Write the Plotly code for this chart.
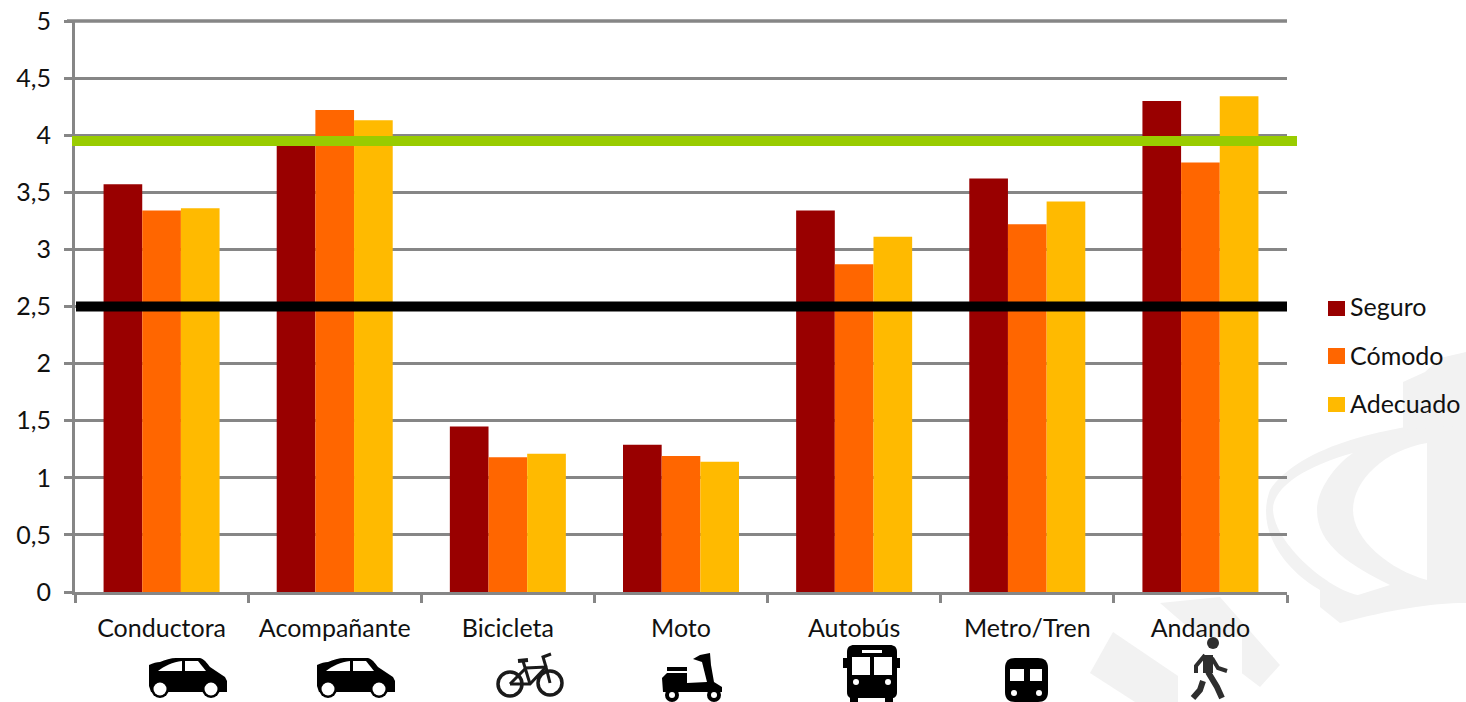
import plotly.graph_objects as go

categories = ["Conductora", "Acompañante", "Bicicleta", "Moto", "Autobús", "Metro/Tren", "Andando"]
seguro = [3.57, 3.94, 1.45, 1.29, 3.34, 3.62, 4.30]
comodo = [3.34, 4.22, 1.18, 1.19, 2.87, 3.22, 3.76]
adecuado = [3.36, 4.13, 1.21, 1.14, 3.11, 3.42, 4.34]
series_names = ["Seguro", "Cómodo", "Adecuado"]
series_colors = ["#990000", "#FF6600", "#FFBA00"]
ref_black = 2.5
ref_green = 3.95

W, H = 1466, 702
L, R, T, B = 75, 1287, 21, 592
FONT = "Lato"
GRID = "#868686"


def px(x):
    return (x - L) / (R - L)


def py(y):
    return (B - y) / (B - T)


shapes = []
annotations = []


def path(d, fill=None, line=None, lw=0, layer="above"):
    """d: list of commands, each (letter, x1, y1, x2, y2...) in page pixels."""
    out = []
    for cmd in d:
        if cmd[0] == "Z":
            out.append("Z")
            continue
        nums = cmd[1:]
        pts = []
        for i in range(0, len(nums), 2):
            pts.append(f"{px(nums[i]):.5f},{py(nums[i + 1]):.5f}")
        out.append(cmd[0] + " ".join(pts))
    s = dict(type="path", path=" ".join(out), xref="paper", yref="paper", layer=layer,
             line=dict(width=lw, color=line or "rgba(0,0,0,0)"))
    if fill:
        s["fillcolor"] = fill
    shapes.append(s)


def rect(x0, y0, x1, y1, fill, layer="above"):
    shapes.append(dict(type="rect", xref="paper", yref="paper", x0=px(x0), x1=px(x1), y0=py(y1), y1=py(y0),
                       fillcolor=fill, line=dict(width=0), layer=layer))


def circle(cx, cy, r, fill, layer="above"):
    shapes.append(dict(type="circle", xref="paper", yref="paper", x0=px(cx - r), x1=px(cx + r),
                       y0=py(cy + r), y1=py(cy - r), fillcolor=fill, line=dict(width=0), layer=layer))


# --- watermark behind the chart ---
WM = "#F2F2F2"
path([("M", 1466, 420), ("C", 1390, 425, 1300, 445, 1270, 490), ("C", 1255, 530, 1285, 570, 1320, 590),
      ("L", 1320, 607), ("L", 1340, 623), ("C", 1390, 610, 1430, 603, 1466, 603), ("Z",)], fill=WM, layer="below")
path([("M", 1353, 453), ("C", 1310, 465, 1273, 485, 1273, 510), ("C", 1275, 545, 1330, 590, 1358, 595),
      ("L", 1390, 585), ("C", 1350, 565, 1317, 545, 1317, 510), ("C", 1317, 490, 1335, 465, 1353, 453), ("Z",)],
     fill="#FFFFFF", layer="below")
path([("M", 1427, 443), ("C", 1385, 450, 1353, 480, 1353, 510), ("C", 1353, 540, 1390, 570, 1427, 580), ("Z",)],
     fill="#FFFFFF", layer="below")
path([("M", 1403, 382), ("L", 1425, 372), ("L", 1440, 358), ("L", 1466, 352), ("L", 1466, 425), ("L", 1403, 430),
      ("Z",)], fill=WM, layer="below")
path([("M", 1160, 603), ("L", 1220, 597), ("L", 1280, 665), ("L", 1260, 687), ("L", 1235, 668), ("Z",)],
     fill=WM, layer="below")
path([("M", 1113, 632), ("L", 1090, 673), ("L", 1135, 702), ("L", 1178, 702), ("L", 1178, 676), ("Z",)],
     fill=WM, layer="below")
rect(1178, 637, 1242, 702, "#FFFFFF", layer="below")


# --- pictograms under the categories ---
def car(x, y):
    path([("M", x, y + 7), ("C", x + 4, y + 5, x + 8, y + 4, x + 11, y + 4), ("C", x + 16, y + 2, x + 22, y, x + 27, y),
          ("L", x + 51, y), ("C", x + 55, y + 1, x + 58, y + 5, x + 61, y + 9), ("L", x + 76, y + 19),
          ("L", x + 78, y + 23), ("L", x + 78, y + 34), ("L", x + 2, y + 34), ("L", x, y + 28), ("Z",)],
         fill="#000000")
    path([("M", x + 9, y + 13), ("C", x + 15, y + 8, x + 24, y + 4, x + 33, y + 3), ("L", x + 33, y + 13), ("Z",)],
         fill="#FFFFFF")
    path([("M", x + 36, y + 3), ("L", x + 49, y + 3), ("L", x + 57, y + 13), ("L", x + 36, y + 13), ("Z",)],
         fill="#FFFFFF")
    for wx in (11, 62):
        circle(x + wx, y + 31, 9, "#000000")
        circle(x + wx, y + 31, 6.5, "#FFFFFF")


car(149, 658)
car(317, 658)

# bicycle
for cx, cy in ((510, 684), (550, 683)):
    shapes.append(dict(type="circle", xref="paper", yref="paper", x0=px(cx - 12), x1=px(cx + 12),
                       y0=py(cy + 12), y1=py(cy - 12), line=dict(width=3.5, color="#1A1A1A")))
path([("M", 510, 684), ("L", 526, 668), ("L", 546, 667), ("L", 550, 683)], line="#1A1A1A", lw=3)
path([("M", 510, 684), ("L", 530, 684), ("L", 546, 667)], line="#1A1A1A", lw=3)
path([("M", 523, 661), ("L", 530, 684)], line="#1A1A1A", lw=3)
path([("M", 518, 661), ("L", 528, 660)], line="#1A1A1A", lw=4)
path([("M", 546, 667), ("L", 543, 657), ("L", 551, 654)], line="#1A1A1A", lw=3)

# scooter
path([("M", 662, 678), ("L", 667, 673), ("L", 687, 673), ("L", 687, 683), ("L", 707, 682), ("L", 702, 662),
      ("L", 693, 659), ("L", 700, 655), ("L", 710, 653), ("L", 711, 665), ("L", 714, 682), ("L", 722, 687),
      ("L", 722, 692), ("L", 663, 692), ("Z",)], fill="#000000")
rect(667, 667, 687, 671, "#000000")
for cx in (672, 714):
    circle(cx, 695, 7, "#000000")
    circle(cx, 695, 3, "#FFFFFF")

# bus
path([("M", 847, 652), ("C", 847, 647, 850, 645, 854, 645), ("L", 890, 645), ("C", 894, 645, 897, 647, 897, 652),
      ("L", 897, 692), ("C", 897, 696, 895, 698, 892, 698), ("L", 852, 698), ("C", 849, 698, 847, 696, 847, 692),
      ("Z",)], fill="#000000")
rect(843, 658, 848, 668, "#000000")
rect(896, 658, 900, 668, "#000000")
rect(850, 696, 858, 702, "#000000")
rect(885, 696, 893, 702, "#000000")
rect(862, 650, 882, 653, "#FFFFFF")
rect(852, 657, 870, 675, "#FFFFFF")
rect(874, 657, 892, 675, "#FFFFFF")
circle(856, 682, 3, "#FFFFFF")
circle(888, 682, 3, "#FFFFFF")

# metro
path([("M", 1005, 668), ("C", 1005, 661, 1009, 658, 1015, 658), ("L", 1038, 658), ("C", 1044, 658, 1048, 661, 1048, 668),
      ("L", 1048, 692), ("C", 1048, 699, 1044, 702, 1038, 702), ("L", 1015, 702), ("C", 1009, 702, 1005, 699, 1005, 692),
      ("Z",)], fill="#000000")
rect(1010, 669, 1024, 681, "#FFFFFF")
rect(1030, 669, 1042, 681, "#FFFFFF")
circle(1014, 693, 3, "#FFFFFF")
circle(1039, 693, 3, "#FFFFFF")

# walker
WK = "#2E2E2E"
circle(1213, 643, 6, WK)
path([("M", 1208, 655), ("L", 1208, 673)], line=WK, lw=10)
path([("M", 1208, 672), ("L", 1217, 687), ("L", 1222, 698)], line=WK, lw=6)
path([("M", 1203, 681), ("L", 1200, 690), ("L", 1193, 698)], line=WK, lw=6)
path([("M", 1205, 655), ("L", 1196, 666), ("L", 1196, 673)], line=WK, lw=4)
path([("M", 1212, 658), ("L", 1218, 668), ("L", 1227, 671)], line=WK, lw=4)

# --- top gridline, which the axis does not draw at the end of its range ---
shapes.append(dict(type="line", xref="paper", yref="paper", x0=px(67), x1=px(1287), y0=1, y1=1,
                   line=dict(color=GRID, width=3.5), layer="below"))

# --- reference lines ---
shapes.append(dict(type="line", xref="paper", yref="y", x0=px(76), x1=px(1287), y0=ref_black, y1=ref_black,
                   line=dict(color="#000000", width=10), layer="above"))
shapes.append(dict(type="line", xref="paper", yref="y", x0=px(72), x1=px(1297), y0=ref_green, y1=ref_green,
                   line=dict(color="#99CC00", width=10), layer="above"))

# --- legend ---
legend_boxes = [(301, 316), (348, 364), (397, 412)]
legend_text_y = [305.5, 354.5, 402.5]
for name, color, (y0, y1), ty in zip(series_names, series_colors, legend_boxes, legend_text_y):
    rect(1328, y0, 1345, y1, color)
    annotations.append(dict(text=name, xref="paper", yref="paper", x=px(1348), y=py(ty),
                            xanchor="left", yanchor="middle", showarrow=False,
                            font=dict(family=FONT, size=25, color="#111111")))

fig = go.Figure()
for name, color, values in zip(series_names, series_colors, [seguro, comodo, adecuado]):
    fig.add_trace(go.Bar(x=categories, y=values, name=name, marker=dict(color=color, line=dict(width=0)),
                         showlegend=False))

fig.update_layout(
    width=W, height=H,
    margin=dict(l=L, r=W - R, t=T, b=H - B, autoexpand=False),
    barmode="group", bargap=0.33, bargroupgap=0,
    separators=",.",
    paper_bgcolor="#FFFFFF", plot_bgcolor="rgba(0,0,0,0)",
    font=dict(family=FONT, size=25, color="#111111"),
    shapes=shapes, annotations=annotations, showlegend=False,
)
fig.update_xaxes(showline=True, linecolor=GRID, linewidth=3, ticks="outside", ticklen=8, tickwidth=3,
                 tickcolor=GRID, tickson="boundaries", showgrid=False, ticklabelstandoff=12, zeroline=False)
fig.update_yaxes(range=[0, 5], dtick=0.5, showline=True, linecolor=GRID, linewidth=3, ticks="outside", ticklen=8,
                 tickwidth=3, tickcolor=GRID, showgrid=True, gridcolor=GRID, gridwidth=3, zeroline=False,
                 ticklabelstandoff=8)

fig.write_html("out.html", config={"displayModeBar": False},
               post_script="document.body.style.margin='0';document.documentElement.style.overflow='hidden';")
